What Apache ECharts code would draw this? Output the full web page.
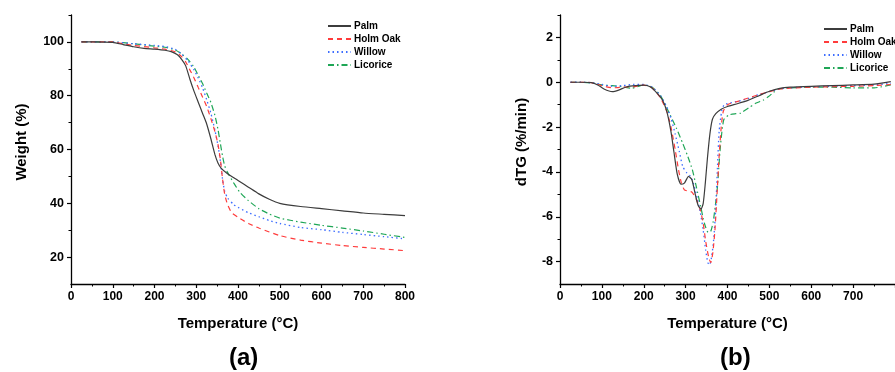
<!DOCTYPE html>
<html><head><meta charset="utf-8">
<script src="https://cdn.jsdelivr.net/npm/echarts@6/dist/echarts.min.js"></script>
<style>html,body{margin:0;padding:0;background:#fff}#c{width:895px;height:372px}</style>
</head><body><div id="c"></div>
<script>
const seriesNames = ['Palm', 'Holm Oak', 'Willow', 'Licorice'];
const weightMajorTicks = [20, 40, 60, 80, 100];
const weightMinorTicks = [30, 50, 70, 90, 110];
const dtgMajorTicks = [-8, -6, -4, -2, 0, 2];
const dtgMinorTicks = [-7, -5, -3, -1, 1, 3];
const panelLabels = ['(a)', '(b)'];

// TG curves: [temperature °C, weight %]
const palmTG = [[25,100],[50,100],[100,99.8],[125,99],[150,98.2],[175,97.6],[200,97.3],[225,96.9],[240,96.4],[255,95.2],[265,93.5],[275,91],[285,86],[295,81.5],[305,77.5],[315,73.5],[325,69.5],[335,64],[345,58],[352,55],[360,53],[375,51],[400,48.5],[425,46],[450,43.5],[475,41.5],[500,40],[550,38.8],[600,38],[650,37.2],[700,36.4],[750,35.9],[800,35.4]];
const holmTG = [[25,100],[50,100],[100,100],[125,99.3],[150,98.7],[200,97.8],[225,97.3],[250,96.3],[265,94.5],[275,92.5],[285,89.5],[295,86.5],[305,83],[315,79.5],[325,76],[335,71.5],[345,66.5],[352,62],[358,56],[363,49],[368,43.5],[375,39.5],[385,36.5],[400,34.8],[425,32.5],[450,30.8],[500,28],[550,26.3],[600,25.2],[650,24.3],[700,23.6],[750,23],[800,22.4]];
const willowTG = [[25,100],[50,100],[100,100],[150,99.3],[200,98.7],[225,98.3],[250,97.2],[265,95.5],[280,93],[295,89.5],[305,86.5],[315,83],[325,78.5],[335,73.5],[345,67],[352,61.5],[358,55.5],[363,49],[368,44.5],[375,42],[390,39.5],[400,38.5],[425,36.5],[450,35],[475,33.6],[500,32.5],[550,31],[600,30.2],[650,29.2],[700,28.4],[750,27.6],[800,26.8]];
const licoriceTG = [[25,100],[50,100],[100,100],[150,99.3],[200,98.4],[225,98],[250,97],[265,95.5],[280,93.5],[293,91],[305,87.5],[315,84.5],[325,81],[335,77.5],[345,72.5],[352,67.5],[358,62],[363,57.5],[368,54],[375,51.5],[390,47.5],[405,44],[425,41],[450,38],[475,36],[500,34.5],[525,33.7],[550,33],[600,31.8],[650,30.8],[700,29.7],[750,28.5],[800,27.3]];

// DTG curves: [temperature °C, dTG %/min]
const palmDTG = [[25,0],[50,0],[75,-0.02],[90,-0.12],[105,-0.3],[125,-0.42],[140,-0.35],[160,-0.2],[180,-0.15],[200,-0.13],[215,-0.2],[230,-0.45],[245,-0.8],[255,-1.3],[265,-2.2],[272,-3.1],[280,-4.1],[289,-4.55],[297,-4.5],[307,-4.2],[315,-4.35],[323,-5],[330,-5.5],[337,-5.65],[342,-5.4],[347,-4.5],[352,-3.4],[358,-2.3],[364,-1.65],[372,-1.4],[385,-1.2],[400,-1.08],[425,-0.95],[450,-0.8],[475,-0.6],[500,-0.4],[525,-0.27],[550,-0.22],[600,-0.18],[650,-0.15],[700,-0.12],[750,-0.08],[790,0.03]];
const holmDTG = [[25,0],[50,0],[75,-0.02],[100,-0.15],[125,-0.25],[150,-0.22],[175,-0.2],[200,-0.13],[220,-0.25],[240,-0.7],[255,-1.3],[265,-2.0],[275,-3.0],[283,-3.9],[290,-4.5],[297,-4.8],[305,-4.85],[315,-4.9],[325,-5.2],[335,-5.7],[342,-6.3],[348,-7.1],[355,-7.8],[360,-8.05],[365,-7.6],[370,-6.6],[375,-5.0],[380,-3.3],[385,-2.0],[390,-1.3],[400,-1.0],[425,-0.85],[450,-0.7],[475,-0.55],[500,-0.42],[525,-0.3],[550,-0.26],[600,-0.22],[650,-0.2],[700,-0.18],[750,-0.15],[790,-0.1]];
const willowDTG = [[25,0],[50,0],[75,-0.02],[100,-0.1],[125,-0.18],[150,-0.15],[175,-0.1],[200,-0.1],[220,-0.22],[240,-0.6],[255,-1.1],[265,-1.6],[275,-2.3],[285,-3.1],[293,-3.75],[303,-4.05],[312,-4.2],[320,-4.6],[328,-5.2],[335,-5.8],[342,-6.6],[348,-7.5],[353,-8.05],[357,-8.15],[362,-7.8],[367,-7.0],[372,-5.6],[376,-3.8],[380,-2.2],[386,-1.3],[392,-1.0],[400,-0.95],[425,-0.85],[450,-0.72],[475,-0.55],[500,-0.42],[525,-0.3],[550,-0.25],[600,-0.2],[650,-0.18],[700,-0.15],[750,-0.12],[790,-0.05]];
const licoriceDTG = [[25,0],[50,0],[75,-0.03],[100,-0.12],[125,-0.15],[150,-0.2],[170,-0.27],[185,-0.2],[200,-0.12],[220,-0.22],[240,-0.6],[261,-1.38],[278,-2.05],[293,-2.72],[305,-3.3],[316,-3.9],[326,-4.7],[336,-5.55],[345,-6.3],[354,-6.7],[360,-6.65],[366,-6.2],[371,-5.5],[376,-4.66],[383,-2.87],[391,-1.68],[403,-1.46],[420,-1.4],[431,-1.38],[450,-1.15],[467,-0.94],[485,-0.8],[498,-0.64],[510,-0.45],[522,-0.3],[550,-0.25],[600,-0.22],[650,-0.22],[700,-0.25],[750,-0.25],[790,-0.12]];

const tgData = [palmTG, holmTG, willowTG, licoriceTG];
const dtgData = [palmDTG, holmDTG, willowDTG, licoriceDTG];

const FONT = '"Liberation Sans", Arial, sans-serif';
const lineStyles = [
  { color: '#3c3c3c', type: 'solid', width: 1.2 },
  { color: '#ff3b3b', type: [5, 4], width: 1.2 },
  { color: '#3d6dff', type: [1.5, 3], width: 1.3 },
  { color: '#1fa656', type: [6, 3, 1.5, 3], width: 1.2 }
];

function xAxisCfg(gridIndex, hideMax) {
  return {
    gridIndex, type: 'value', min: 0, max: 800, interval: 100,
    axisLine: { onZero: false, lineStyle: { color: '#000', width: 1.3 } },
    axisTick: { length: 4, lineStyle: { color: '#000', width: 1.2 } },
    minorTick: { show: true, splitNumber: 2, length: 2.5, lineStyle: { color: '#000', width: 1 } },
    splitLine: { show: false },
    axisLabel: { margin: 7, fontSize: 12, fontWeight: 'bold', color: '#000', fontFamily: FONT, showMaxLabel: !hideMax },
    name: 'Temperature (°C)', nameLocation: 'middle', nameGap: 32,
    nameTextStyle: { fontSize: 15, fontWeight: 'bold', color: '#000', fontFamily: FONT }
  };
}
function yMain(gridIndex, min, max, ticks, name, gap) {
  return {
    gridIndex, type: 'value', min, max, position: 'left',
    axisLine: { onZero: false, lineStyle: { color: '#000', width: 1.3 } },
    axisTick: { customValues: ticks, length: 4, lineStyle: { color: '#000', width: 1.2 } },
    axisLabel: { customValues: ticks, margin: 7, fontSize: 12.5, fontWeight: 'bold', color: '#000', fontFamily: FONT },
    splitLine: { show: false },
    name, nameLocation: 'middle', nameGap: gap,
    nameTextStyle: { fontSize: 15, fontWeight: 'bold', color: '#000', fontFamily: FONT, padding: [0, 0, 0, 15] }
  };
}
function yMinor(gridIndex, min, max, ticks) {
  return {
    gridIndex, type: 'value', min, max, position: 'left',
    axisLine: { show: false, onZero: false },
    axisTick: { customValues: ticks, length: 2.5, lineStyle: { color: '#000', width: 1 } },
    axisLabel: { show: false },
    splitLine: { show: false }
  };
}

const series = [];
seriesNames.forEach((n, i) => {
  series.push({ name: n, type: 'line', xAxisIndex: 0, yAxisIndex: 0, data: tgData[i], symbol: 'none', smooth: 0.2, lineStyle: lineStyles[i], itemStyle: { color: lineStyles[i].color }, z: 10 - i });
  series.push({ name: n, type: 'line', xAxisIndex: 1, yAxisIndex: 2, data: dtgData[i], symbol: 'none', smooth: 0.2, lineStyle: lineStyles[i], itemStyle: { color: lineStyles[i].color }, z: 10 - i });
});

function legendCfg(left, top) {
  return {
    left, top, orient: 'vertical', itemWidth: 23, itemHeight: 10, itemGap: 3,
    data: seriesNames, selectedMode: false,
    itemStyle: { opacity: 0 },
    textStyle: { fontSize: 10, fontWeight: 'bold', color: '#000', fontFamily: FONT, lineHeight: 10, padding: [0, 0, 0, -2] }
  };
}

const chart = echarts.init(document.getElementById('c'), null, { renderer: 'canvas' });
chart.setOption({
  backgroundColor: '#fff',
  animation: false,
  grid: [
    { left: 71, top: 15, width: 334, height: 269 },
    { left: 560, top: 15, width: 337, height: 269 }
  ],
  xAxis: [xAxisCfg(0, false), xAxisCfg(1, true)],
  yAxis: [
    yMain(0, 10, 110, weightMajorTicks, 'Weight (%)', 42),
    yMinor(0, 10, 110, weightMinorTicks),
    yMain(1, -9, 3, dtgMajorTicks, 'dTG (%/min)', 31),
    yMinor(1, -9, 3, dtgMinorTicks)
  ],
  legend: [legendCfg(322, 16), legendCfg(818, 19)],
  graphic: [
    { type: 'text', left: 229, top: 346, style: { text: panelLabels[0], fontSize: 24, fontWeight: 'bold', fill: '#000', fontFamily: FONT, textAlign: 'center' } },
    { type: 'text', left: 720, top: 346, style: { text: panelLabels[1], fontSize: 24, fontWeight: 'bold', fill: '#000', fontFamily: FONT, textAlign: 'center' } }
  ],
  series
});
</script></body></html>
